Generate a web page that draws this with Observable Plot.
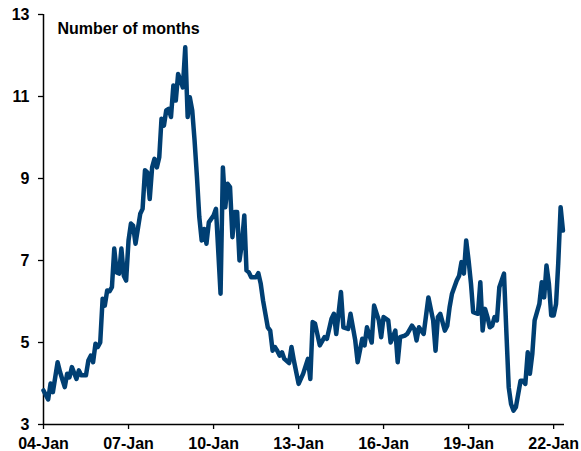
<!DOCTYPE html>
<html>
<head>
<meta charset="utf-8">
<script src="https://cdn.jsdelivr.net/npm/d3@7"></script>
<script src="https://cdn.jsdelivr.net/npm/@observablehq/plot@0.6"></script>
<style>
  html, body { margin: 0; padding: 0; background: #fff; }
  #chart { width: 581px; height: 451px; }
</style>
</head>
<body>
<div id="chart"></div>
<script>
const title = "Number of months";
const months = [
"2004-01","2004-03","2004-04","2004-05","2004-07","2004-08","2004-10","2004-11","2004-12",
"2005-01","2005-03","2005-04","2005-05","2005-07","2005-08","2005-09","2005-10","2005-11","2005-12",
"2006-01","2006-02","2006-03","2006-04","2006-05","2006-06","2006-07","2006-08","2006-09","2006-10","2006-11","2006-12",
"2007-01","2007-02","2007-03","2007-04","2007-06","2007-07","2007-08","2007-09","2007-10","2007-11","2007-12",
"2008-01","2008-02","2008-03","2008-04","2008-05","2008-06","2008-07","2008-08","2008-09","2008-10","2008-11","2008-12",
"2009-01","2009-02","2009-03","2009-04","2009-05","2009-06","2009-07","2009-08","2009-09","2009-10","2009-11",
"2010-01","2010-02","2010-04","2010-05","2010-06","2010-07","2010-08","2010-09","2010-10","2010-11","2010-12",
"2011-01","2011-02","2011-03","2011-04","2011-05","2011-07","2011-08","2011-09","2011-10","2011-12",
"2012-01","2012-02","2012-03","2012-04","2012-05","2012-06","2012-07","2012-09","2012-10","2012-11",
"2013-01","2013-03","2013-05","2013-06","2013-07","2013-08","2013-10","2013-12",
"2014-01","2014-03","2014-04","2014-05","2014-07","2014-08","2014-10","2014-11",
"2015-01","2015-02","2015-04","2015-05","2015-06","2015-08","2015-09","2015-11","2015-12",
"2016-01","2016-03","2016-04","2016-06","2016-07","2016-08","2016-10","2016-11",
"2017-01","2017-02","2017-03","2017-04","2017-06","2017-08","2017-10","2017-11","2017-12",
"2018-01","2018-03","2018-04","2018-05","2018-06","2018-08","2018-09","2018-10","2018-11","2018-12",
"2019-01","2019-02","2019-03","2019-05","2019-06","2019-07","2019-08","2019-09","2019-10","2019-11","2019-12",
"2020-01","2020-02","2020-04","2020-05","2020-06","2020-07","2020-08","2020-09","2020-11","2020-12",
"2021-01","2021-02","2021-03","2021-04","2021-05","2021-07","2021-08","2021-09","2021-10","2021-11","2021-12",
"2022-01","2022-02","2022-03","2022-04","2022-05"
];
const values = [
3.83,3.61,4.00,3.79,4.52,4.28,3.91,4.24,4.15,
4.40,4.11,4.32,4.20,4.20,4.56,4.68,4.52,4.97,4.89,
5.00,6.07,5.90,6.27,6.25,6.35,7.29,6.71,6.68,7.29,6.63,6.51,
7.49,7.90,7.85,7.41,8.14,8.26,9.20,9.15,8.50,9.27,9.48,
9.27,9.52,10.46,10.29,10.66,10.70,10.50,11.27,10.90,11.55,11.39,11.22,
12.20,10.50,10.98,10.66,9.93,9.03,8.06,7.49,7.77,7.41,7.93,
8.10,8.26,6.19,9.27,8.30,8.87,8.79,7.57,8.18,8.18,7.00,
7.41,8.10,6.76,6.71,6.59,6.59,6.69,6.43,6.02,5.37,
5.29,4.80,4.89,4.80,4.68,4.76,4.60,4.50,4.89,4.56,
3.99,4.24,4.60,4.11,5.50,5.46,4.93,5.13,
5.09,5.58,5.70,5.21,6.23,5.37,5.33,5.70,
5.05,4.52,5.09,4.93,5.37,5.00,5.90,5.54,5.13,
5.62,5.54,5.00,5.29,4.52,5.13,5.17,5.21,
5.41,5.33,5.05,5.37,5.21,6.10,5.54,4.80,5.62,
5.70,5.29,5.41,5.86,6.19,6.51,6.63,6.96,6.68,7.49,
7.00,6.43,5.74,5.70,6.47,5.29,5.82,5.62,5.37,5.41,5.62,
5.54,6.35,6.68,5.29,3.91,3.50,3.34,3.42,4.07,4.07,
3.99,4.76,4.24,4.72,5.54,5.94,6.47,6.10,6.88,6.43,5.66,
5.66,5.94,6.92,8.30,7.73
];
const xTickMonths = ["2004-01","2007-01","2010-01","2013-01","2016-01","2019-01","2022-01"];
const yTicks = [3,5,7,9,11,13];
const xDomain = ["2004-01-01","2022-05-21"];
const yDomain = [3,13];

const parse = d3.utcParse("%Y-%m");
const data = months.map((m, i) => ({date: parse(m), value: values[i]}));
const xTicks = xTickMonths.map(parse);
const fmt = d3.utcFormat("%y-%b");

const font = "'Liberation Sans', Arial, Helvetica, sans-serif";
const chart = Plot.plot({
  width: 581,
  height: 451,
  marginLeft: 43,
  marginRight: 17,
  marginTop: 14,
  marginBottom: 27,
  style: {fontFamily: font, fontSize: "16px", fontWeight: "bold", color: "#000", background: "#fff", overflow: "visible"},
  x: {type: "utc", domain: xDomain.map(d => new Date(d))},
  y: {domain: yDomain},
  marks: [
    Plot.axisY(yTicks, {tickSize: 5, tickPadding: 9, label: null, fontSize: 16, fontWeight: "bold", stroke: "#000", strokeWidth: 1.3}),
    Plot.axisX(xTicks, {tickSize: 5, tickPadding: 8, label: null, tickFormat: fmt, fontSize: 16, fontWeight: "bold", stroke: "#000", strokeWidth: 1.3}),
    Plot.ruleY([yDomain[0]], {stroke: "#000", strokeWidth: 1.5}),
    Plot.ruleX([xTicks[0]], {stroke: "#000", strokeWidth: 1.5}),
    Plot.line(data, {x: "date", y: "value", stroke: "#003f73", strokeWidth: 4.5, strokeLinejoin: "round", strokeLinecap: "round"}),
    Plot.text([title], {frameAnchor: "top-left", dx: 14, dy: 14, textAnchor: "start", lineAnchor: "middle", fontSize: 16, fontWeight: "bold", fill: "#000"})
  ]
});
document.getElementById("chart").appendChild(chart);
</script>
</body>
</html>
